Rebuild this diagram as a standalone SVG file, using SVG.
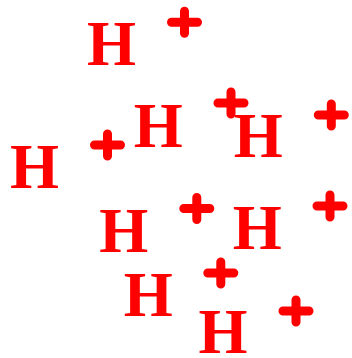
<svg xmlns="http://www.w3.org/2000/svg" width="352" height="358" viewBox="0 0 352 358">
<style>
.h{font-family:"Liberation Serif","Times New Roman",serif;font-weight:bold;font-size:63px;fill:#ff0000;text-anchor:middle}
.p{stroke:#ff0000;stroke-width:9;stroke-linecap:round;fill:none}
</style>
<defs>
<path id="plus" class="p" d="M-13,0H13M0,-11V11"/>
</defs>
<rect width="352" height="358" fill="#ffffff"/>
<g id="h1"><text class="h" x="111.5" y="65">H</text></g>
<g id="h2"><text class="h" x="34.5" y="188">H</text></g>
<g id="h3"><text class="h" x="158.3" y="146.7">H</text></g>
<g id="h4"><text class="h" x="258.3" y="157.3">H</text></g>
<g id="h5"><text class="h" x="123.7" y="252.3">H</text></g>
<g id="h6"><text class="h" x="257.3" y="249.3">H</text></g>
<g id="h7"><text class="h" x="148.3" y="315.7">H</text></g>
<g id="h8"><text class="h" x="223" y="353.3">H</text></g>
<g id="p1"><use href="#plus" x="184.5" y="22.3"/></g>
<g id="p2"><use href="#plus" x="107.5" y="145"/></g>
<g id="p3"><use href="#plus" x="231" y="103"/></g>
<g id="p4"><use href="#plus" x="331.3" y="115"/></g>
<g id="p5"><use href="#plus" x="196.8" y="208.5"/></g>
<g id="p6"><use href="#plus" x="330" y="206"/></g>
<g id="p7"><use href="#plus" x="220.8" y="273"/></g>
<g id="p8"><use href="#plus" x="296" y="311"/></g>
</svg>
